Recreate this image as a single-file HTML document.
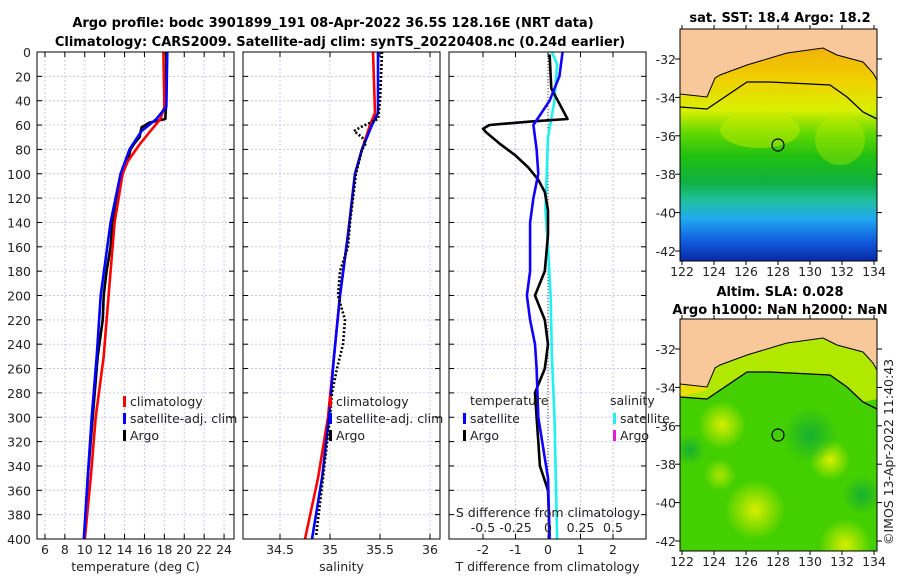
<!DOCTYPE html>
<html><head><meta charset="utf-8"><style>
body{margin:0;background:#fff;}
svg{display:block;font-family:"DejaVu Sans","Liberation Sans",sans-serif;}
</style></head><body>
<svg id="fig" width="900" height="580" viewBox="0 0 900 580">
<defs>
<linearGradient id="sstGrad" x1="0" y1="0" x2="0" y2="1">
<stop offset="0" stop-color="#f0a010"/>
<stop offset="0.22" stop-color="#f0d000"/>
<stop offset="0.35" stop-color="#d8f000"/>
<stop offset="0.45" stop-color="#60d800"/>
<stop offset="0.55" stop-color="#20c010"/>
<stop offset="0.66" stop-color="#10b040"/>
<stop offset="0.74" stop-color="#20c0a0"/>
<stop offset="0.82" stop-color="#20a8f0"/>
<stop offset="0.91" stop-color="#1060e0"/>
<stop offset="1" stop-color="#0828a8"/>
</linearGradient>
<radialGradient id="blob"><stop offset="0" stop-color="#d8ee00"/><stop offset="1" stop-color="#d8ee00" stop-opacity="0"/></radialGradient>
<radialGradient id="blobg"><stop offset="0" stop-color="#18b030"/><stop offset="1" stop-color="#18b030" stop-opacity="0"/></radialGradient>
<clipPath id="clipTop"><rect x="680" y="29" width="197" height="232"/></clipPath>
<clipPath id="clipBot"><rect x="680" y="319" width="197" height="232"/></clipPath>
</defs>
<text x="333" y="27" text-anchor="middle" font-size="13" font-weight="bold">Argo profile: bodc 3901899_191 08-Apr-2022 36.5S 128.16E (NRT data)</text>
<text x="340" y="46" text-anchor="middle" font-size="13" font-weight="bold">Climatology: CARS2009. Satellite-adj clim: synTS_20220408.nc (0.24d earlier)</text>
<g id="panels"></g>
<g id="maps">
<g clip-path="url(#clipTop)">
<rect x="680" y="29" width="197" height="232" fill="url(#sstGrad)"/>
<ellipse cx="760" cy="130" rx="40" ry="18" fill="#d0ee00" opacity="0.45"/>
<ellipse cx="840" cy="140" rx="25" ry="25" fill="#c8ee00" opacity="0.35"/>
<path d="M680,29 L680,94 L707,97 L715,78 L720,75 L747,65 L787,53 L823,48 L837,55 L863,62 L873,73 L877,80 L877,29 Z" fill="#f9c89a" stroke="#000" stroke-width="1"/>
<path d="M680,107 L707,109 L747,82 L770,82 L830,85 L847,97 L863,112 L877,119" fill="none" stroke="#000" stroke-width="1.3"/>
<circle cx="778" cy="145" r="6" fill="none" stroke="#000" stroke-width="1.2"/>
</g>
<rect x="680" y="29" width="197" height="232" fill="none" stroke="#000"/>
<g clip-path="url(#clipBot)">
<rect x="680" y="319" width="197" height="232" fill="#44d000"/>
<path d="M680,384 L707,387 L715,368 L720,365 L747,355 L787,343 L823,338 L837,345 L863,352 L873,363 L877,370 L877,399 L863,402 L847,387 L830,375 L770,372 L747,372 L707,399 L680,397 Z" fill="#b0e800"/>
<path d="M680,384 L707,387 L715,368 L707,390 L680,397 Z" fill="#e8e000"/>
<circle cx="722" cy="425" r="24" fill="url(#blob)"/>
<circle cx="755" cy="510" r="30" fill="url(#blob)"/>
<circle cx="845" cy="545" r="26" fill="url(#blob)"/>
<circle cx="830" cy="460" r="20" fill="url(#blob)"/>
<circle cx="720" cy="475" r="16" fill="url(#blob)" opacity="0.7"/>
<circle cx="810" cy="435" r="28" fill="url(#blobg)"/>
<circle cx="862" cy="495" r="20" fill="url(#blobg)"/>
<circle cx="690" cy="450" r="16" fill="url(#blobg)"/>
<path d="M680,319 L680,384 L707,387 L715,368 L720,365 L747,355 L787,343 L823,338 L837,345 L863,352 L873,363 L877,370 L877,319 Z" fill="#f9c89a" stroke="#000" stroke-width="1"/>
<path d="M680,397 L707,399 L747,372 L770,372 L830,375 L847,387 L863,402 L877,409" fill="none" stroke="#000" stroke-width="1.3"/>
<circle cx="778" cy="435" r="6" fill="none" stroke="#000" stroke-width="1.2"/>
</g>
<rect x="680" y="319" width="197" height="232" fill="none" stroke="#000"/>
<text x="780" y="22" text-anchor="middle" font-size="13" font-weight="bold">sat. SST: 18.4 Argo: 18.2</text>
<text x="780" y="296" text-anchor="middle" font-size="13" font-weight="bold">Altim. SLA: 0.028</text>
<text x="780" y="314" text-anchor="middle" font-size="13" font-weight="bold">Argo h1000: NaN h2000: NaN</text>
<text transform="translate(893,545) rotate(-90)" font-size="12.5" fill="#222">©IMOS 13-Apr-2022 11:40:43</text>
<g id="mapAxes"></g>
</g>
</svg>
<script>
// ---- data ----
const tempClimDepth=[0,45,55,65,75,90,100,140,200,250,300,350,400];
const tempClim=[17.9,18.0,17.6,16.6,15.6,14.3,13.8,13.0,12.4,11.9,11.1,10.6,10.0];
const tempSatDepth=[0,45,55,65,80,100,140,200,250,300,350,400];
const tempSat=[18.3,18.2,17.2,15.7,14.5,13.6,12.6,11.6,11.2,10.7,10.3,9.9];
const tempArgoDepth=[0,40,55,58,62,70,75,80,90,100,120,140,160,180,200,220,250,280,300,320,350,398];
const tempArgo=[18.2,18.2,18.1,16.5,15.7,15.5,15.0,14.6,14.3,13.8,13.2,12.8,12.6,12.2,11.9,11.8,11.3,11.0,10.8,10.6,10.3,10.0];
const salDepth=[0,50,60,80,100,150,200,250,300,350,400];
const salClim=[35.43,35.45,35.4,35.32,35.25,35.18,35.1,35.04,34.98,34.88,34.75];
const salSat=[35.48,35.48,35.42,35.32,35.25,35.18,35.1,35.04,34.99,34.92,34.82];
const salArgoDepth=[0,40,55,62,65,70,75,80,100,140,160,180,200,220,240,260,280,300,350,398];
const salArgo=[35.52,35.5,35.48,35.3,35.24,35.32,35.36,35.32,35.26,35.2,35.18,35.1,35.08,35.15,35.13,35.07,35.02,35.0,34.93,34.86];
const dTSatDepth=[0,20,40,50,60,80,100,120,140,180,200,220,240,260,300,350,400];
const dTSat=[0.45,0.35,0.05,-0.2,-0.45,-0.35,-0.3,-0.45,-0.55,-0.55,-0.65,-0.55,-0.4,-0.35,-0.3,0.0,0.05];
const dTArgoDepth=[2,30,40,50,55,57,60,63,66,75,85,95,105,115,130,150,180,200,220,240,260,280,300,320,340,360,398];
const dTArgo=[0.05,0.1,0.3,0.5,0.6,-0.5,-1.8,-2.0,-1.9,-1.5,-1.0,-0.6,-0.3,-0.1,0.0,0.0,-0.1,-0.4,-0.1,0.0,-0.1,-0.4,-0.35,-0.3,-0.25,0.0,0.05];
const dSSatDepth=[0,10,40,70,100,130,160,200,250,300,350,400];
const dSSat=[0.03,0.07,0.05,0.0,-0.01,-0.02,0.0,0.02,0.03,0.05,0.06,0.07];
const depthTicks=[0,20,40,60,80,100,120,140,160,180,200,220,240,260,280,300,320,340,360,380,400];
const tempTicks=[6,8,10,12,14,16,18,20,22,24];
const salTicks=[34.5,35,35.5,36];
const dTTicks=[-2,-1,0,1,2];
const dSTicks=[-0.5,-0.25,0,0.25,0.5];
const latTicks=[-32,-34,-36,-38,-40,-42];
const lonTicks=[122,124,126,128,130,132,134];

const NS='http://www.w3.org/2000/svg';
const root=document.getElementById('panels');
function el(tag,attrs,parent,txt){const e=document.createElementNS(NS,tag);for(const k in attrs)e.setAttribute(k,attrs[k]);if(txt!==undefined)e.textContent=txt;(parent||root).appendChild(e);return e;}
const top0=52,bot0=539;
function yD(d){return top0+(d/400)*(bot0-top0);}
function lin(d0,d1,r0,r1){return v=>r0+(v-d0)/(d1-d0)*(r1-r0);}
const panels=[
 {x0:37,x1:234,sc:lin(5.2,25,37,234),ticks:tempTicks,name:'temperature-panel',title:'temperature (deg C)',fmt:v=>String(v)},
 {x0:243,x1:440,sc:lin(34.13,36.1,243,440),ticks:salTicks,name:'salinity-panel',title:'salinity',fmt:v=>String(v)},
 {x0:449,x1:646,sc:lin(-3.046,3.015,449,646),ticks:dTTicks,name:'difference-panel',title:'T difference from climatology',fmt:v=>String(v)}
];
panels.forEach((p,i)=>{
 const g=el('g',{});
 
 
 p.g=g;
 p.ticks.forEach(t=>{const x=p.sc(t);el('line',{x1:x,x2:x,y1:top0,y2:bot0,stroke:'#c8c8ec','stroke-dasharray':'2,2','stroke-width':1},g);});
 depthTicks.forEach(d=>{const y=yD(d);el('line',{x1:p.x0,x2:p.x1,y1:y,y2:y,stroke:'#c8c8ec','stroke-dasharray':'2,2','stroke-width':1},g);
   el('line',{x1:p.x0,x2:p.x0+5,y1:y,y2:y,stroke:'#000'},g);el('line',{x1:p.x1-5,x2:p.x1,y1:y,y2:y,stroke:'#000'},g);});
 p.ticks.forEach(t=>{const x=p.sc(t);el('line',{x1:x,x2:x,y1:bot0,y2:bot0-5,stroke:'#000'},g);el('line',{x1:x,x2:x,y1:top0,y2:top0+5,stroke:'#000'},g);
   const tl=el('text',{x:x,y:bot0+15,'text-anchor':'middle','font-size':12.5,fill:'#222'},g,p.fmt(t));
   
   });
 const at=el('text',{x:(p.x0+p.x1)/2,y:571,'text-anchor':'middle','font-size':12.5,fill:'#222'},g,p.title);
 
 
});
depthTicks.forEach(d=>{const t=el('text',{x:31,y:yD(d)+5,'text-anchor':'end','font-size':12.5,fill:'#222'},root,String(d));
 
 });
function line(p,vals,depths,color,name,extra){
 const pts=vals.map((v,i)=>p.sc(v).toFixed(1)+','+yD(depths[i]).toFixed(1)).join(' ');
 const a={points:pts,fill:'none',stroke:color,'stroke-width':2.6,'stroke-linejoin':'round'};
 Object.assign(a,extra||{});
 const e=el('polyline',a,p.g);
 
 
}
const P0=panels[0],P1=panels[1],P2=panels[2];
line(P0,tempArgo,tempArgoDepth,'#000','temp-argo-line');
line(P0,tempClim,tempClimDepth,'#f00','temp-climatology-line');
line(P0,tempSat,tempSatDepth,'#00f','temp-satellite-line');
line(P1,salClim,salDepth,'#f00','sal-climatology-line');
line(P1,salSat,salDepth,'#00f','sal-satellite-line');
line(P1,salArgo,salArgoDepth,'#000','sal-argo-line',{'stroke-dasharray':'2,2'});
el('line',{x1:P2.sc(0),x2:P2.sc(0),y1:top0,y2:bot0,stroke:'#3a4a2a','stroke-dasharray':'1,2'},P2.g);
const sS=lin(-0.7615,0.754,449,646);
const pS={sc:sS,g:P2.g};
line(pS,dSSat,dSSatDepth,'#20f0f0','sal-diff-satellite-line');
line(P2,dTArgo,dTArgoDepth,'#000','temp-diff-argo-line');
line(P2,dTSat,dTSatDepth,'#10f','temp-diff-satellite-line');
dSTicks.forEach(t=>{const tl=el('text',{x:sS(t),y:532,'text-anchor':'middle','font-size':12.5,fill:'#222'},P2.g,String(t));
 
 });
const sdt=el('text',{x:548,y:517,'text-anchor':'middle','font-size':12.5,fill:'#222'},P2.g,'S difference from climatology');


panels.forEach(p=>el('rect',{x:p.x0,y:top0,width:p.x1-p.x0,height:bot0-top0,fill:'none',stroke:'#000'},p.g));
function legend(g,x,y,color,label){
 const lg=el('g',{},g);
 
 
 el('rect',{x:x,y:y-9,width:3,height:11,fill:color},lg);
 el('text',{x:x+7,y:y+1,'font-size':12.5,fill:'#222'},lg,label);
}
[[P0,123],[P1,329]].forEach(([p,x])=>{legend(p.g,x,405,'#f00','climatology');legend(p.g,x,422,'#00f','satellite-adj. clim');legend(p.g,x,439,'#000','Argo');});
el('text',{x:470,y:405,'font-size':12.5,fill:'#222'},P2.g,'temperature');
el('text',{x:610,y:405,'font-size':12.5,fill:'#222'},P2.g,'salinity');
legend(P2.g,463,422,'#00f','satellite');legend(P2.g,463,439,'#000','Argo');
legend(P2.g,613,422,'#20f0f0','satellite');legend(P2.g,613,439,'#e020d0','Argo');
// map axes
const ma=document.getElementById('mapAxes');
const latY=lin(-32,-42,59,251), lonX=lin(122,134,682,874);
[[29,261],[319,551]].forEach(([t,b])=>{
 latTicks.forEach(l=>{const y=latY(l)+(t-29);el('line',{x1:680,x2:675,y1:y,y2:y,stroke:'#000'},ma);el('line',{x1:877,x2:882,y1:y,y2:y,stroke:'#000'},ma);
  const tl=el('text',{x:676,y:y+5,'text-anchor':'end','font-size':12.5,fill:'#222'},ma,String(l));
  
  });
 lonTicks.forEach(l=>{const x=lonX(l);el('line',{x1:x,x2:x,y1:b,y2:b+4,stroke:'#000'},ma);el('line',{x1:x,x2:x,y1:t,y2:t-4,stroke:'#000'},ma);
  const tl=el('text',{x:x,y:b+15,'text-anchor':'middle','font-size':12.5,fill:'#222'},ma,String(l));
  
  });
});
</script>
</body></html>
